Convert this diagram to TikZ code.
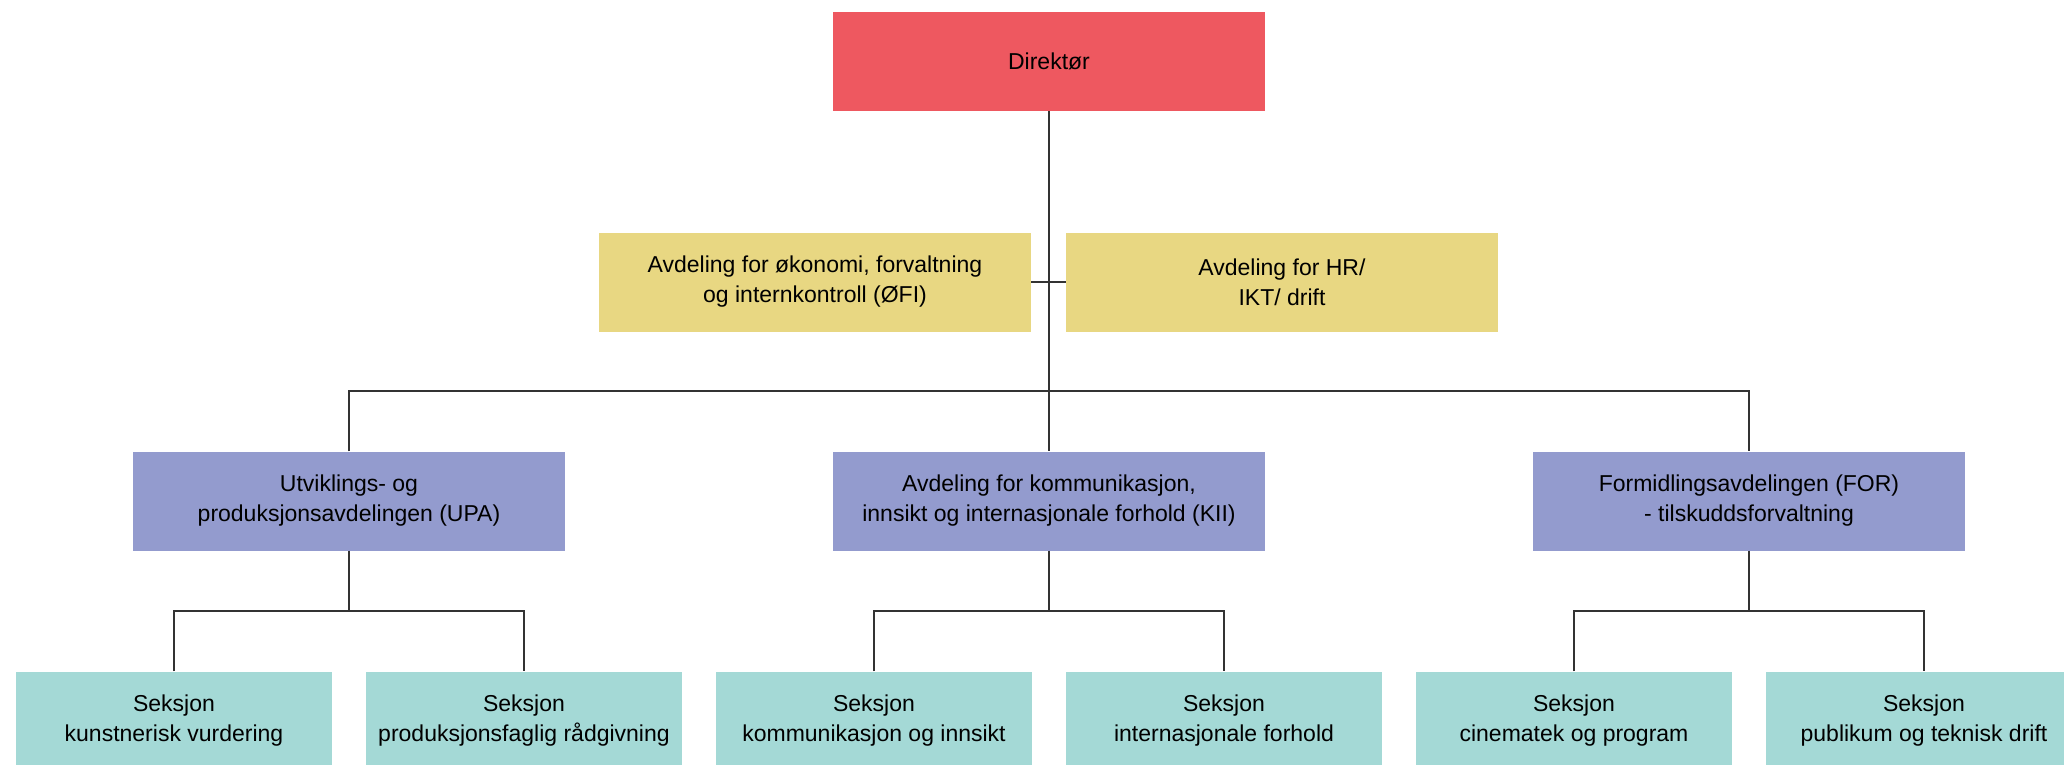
\documentclass[tikz,border=0pt]{standalone}
\usepackage{fontspec}
\setmainfont{Liberation Sans}
\definecolor{dirred}{RGB}{238,88,96}
\definecolor{stabyellow}{RGB}{232,215,130}
\definecolor{avdpurple}{RGB}{147,155,206}
\definecolor{seksteal}{RGB}{164,217,214}
\begin{document}
\begin{tikzpicture}[x=1pt,y=-1pt,
    boks/.style={minimum width=432pt,minimum height=99pt,inner sep=0pt,align=center,
      font=\fontsize{23}{30}\selectfont},
    dirboks/.style={boks,fill=dirred},
    stabboks/.style={boks,fill=stabyellow},
    avdboks/.style={boks,fill=avdpurple},
    seksboks/.style={boks,fill=seksteal,minimum width=316pt},
    linje/.style={draw=black!80,line width=1.3pt}]
    \useasboundingbox (0,0) rectangle (2064,765);
    \clip (0,0) rectangle (2064,765);
    % Ledelse og stab
    \node[dirboks] (dir) at (1049,61.5) {Direktør};
    \node[stabboks] (oko) at (815,282) {Avdeling for økonomi, forvaltning\\og internkontroll (ØFI)};
    \node[stabboks] (hr) at (1282,282) {Avdeling for HR/\\IKT/ drift};
    % Avdelinger
    \node[avdboks] (upa) at (349,501) {Utviklings- og\\produksjonsavdelingen (UPA)};
    \node[avdboks] (kii) at (1049,501) {Avdeling for kommunikasjon,\\innsikt og internasjonale forhold (KII)};
    \node[avdboks] (form) at (1749,501) {Formidlingsavdelingen (FOR)\\- tilskuddsforvaltning};
    % Seksjoner
    \node[seksboks] (kunst) at (174,721) {Seksjon\\kunstnerisk vurdering};
    \node[seksboks] (prod) at (524,721) {Seksjon\\produksjonsfaglig rådgivning};
    \node[seksboks] (komm) at (874,721) {Seksjon\\kommunikasjon og innsikt};
    \node[seksboks] (inter) at (1224,721) {Seksjon\\internasjonale forhold};
    \node[seksboks] (cine) at (1574,721) {Seksjon\\cinematek og program};
    \node[seksboks] (publ) at (1924,721) {Seksjon\\publikum og teknisk drift};
    % Linjer
    \coordinate (bus) at (1049,391);
    \draw[linje] (dir.south) -- (kii.north);
    \draw[linje] (oko.east) -- (hr.west);
    \draw[linje] (upa.north) |- (bus) -| (form.north);
    \foreach \avd/\venstre/\hoyre in {upa/kunst/prod,kii/komm/inter,form/cine/publ}{
      \coordinate (\avd bus) at (\avd.south |- 0,611);
      \draw[linje] (\avd.south) -- (\avd bus);
      \draw[linje] (\venstre.north) |- (\avd bus) -| (\hoyre.north);
    }
\end{tikzpicture}
\end{document}
